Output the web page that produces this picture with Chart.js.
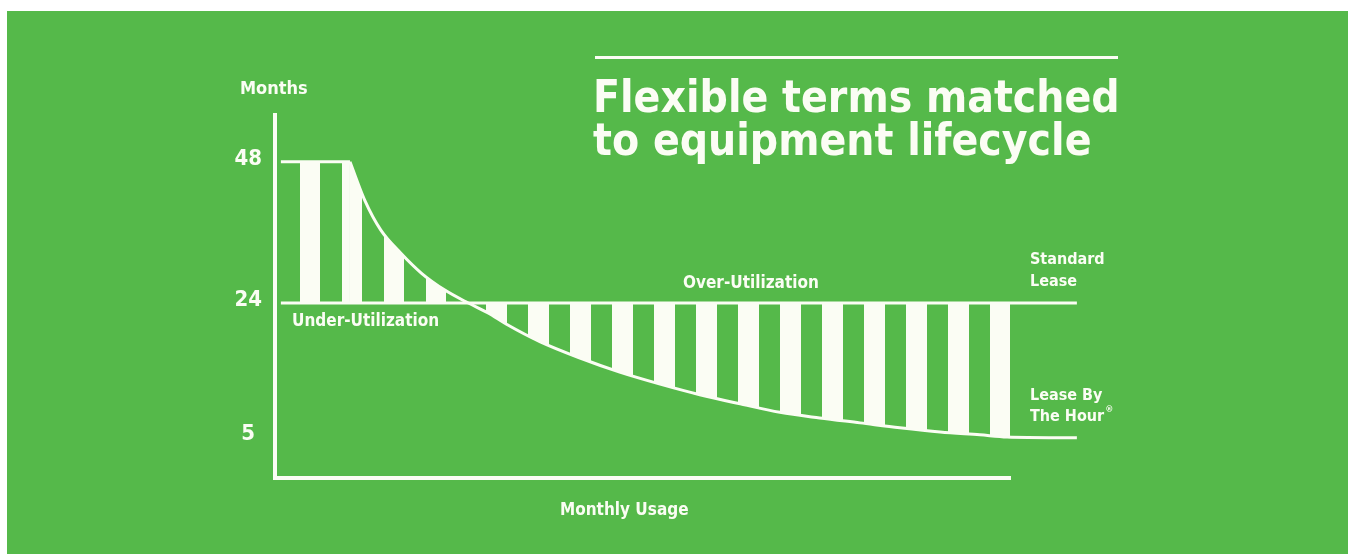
<!DOCTYPE html>
<html>
<head>
<meta charset="utf-8">
<script src="https://cdn.jsdelivr.net/npm/chart.js@4.4.1/dist/chart.umd.min.js"></script>
<style>
  html, body { margin: 0; padding: 0; background: #fff; overflow: hidden; }
  #panel { position: absolute; left: 7px; top: 11px; width: 1341px; height: 543px; background: #55b94a; }
  #chart { position: absolute; left: 0; top: 0; }
</style>
</head>
<body>
<div id="panel"></div>
<canvas id="chart" width="1348" height="554"></canvas>
<script>
// usage is in % of the drawn axis length, terms are in months
const monthTicks = [5, 24, 48];

const usageStandard = [0.8, 109.1];
const monthsStandard = [24, 24];

const usageFlat = [0.8, 10.2];
const monthsFlat = [48, 48];

const usageHourly = [10.2, 12.2, 14.4, 17.1, 19.9, 23.1, 26.3, 29.0, 31.5, 36.1, 41.5, 46.9, 52.4, 57.8, 63.3, 68.7, 74.1, 79.6, 85.0, 90.5, 95.9, 99.6, 109.1];
const monthsHourly = [48, 41.5, 36.4, 32.5, 29.1, 26.2, 24.0, 22.6, 21.0, 18.5, 16.2, 14.2, 12.5, 11.0, 9.7, 8.5, 7.7, 7.0, 6.3, 5.7, 5.3, 5.0, 4.9];

const WHITE = '#fbfdf4';
const FONT = "'DejaVu Sans Condensed', 'DejaVu Sans', sans-serif";

// the month axis is not evenly spaced in the picture, so map it piecewise
const knotValues = [0, 5, 24, 48, 56];
const knotFractions = [0, 0.113, 0.482, 0.871, 1];

class KnotScale extends Chart.LinearScale {
  static id = 'knots';
  getPixelForValue(value) {
    if (value === null || value === undefined) return NaN;
    let i = 1;
    while (i < knotValues.length - 1 && value > knotValues[i]) i++;
    const t = (value - knotValues[i - 1]) / (knotValues[i] - knotValues[i - 1]);
    return this.getPixelForDecimal(knotFractions[i - 1] + t * (knotFractions[i] - knotFractions[i - 1]));
  }
  getValueForPixel(pixel) {
    const d = this.getDecimalForPixel(pixel);
    let i = 1;
    while (i < knotFractions.length - 1 && d > knotFractions[i]) i++;
    const t = (d - knotFractions[i - 1]) / (knotFractions[i] - knotFractions[i - 1]);
    return knotValues[i - 1] + t * (knotValues[i] - knotValues[i - 1]);
  }
}
Chart.register(KnotScale);

const toPoints = (xs, ys) => xs.map((x, i) => ({ x: x, y: ys[i] }));

const canvas = document.getElementById('chart');
const ctx = canvas.getContext('2d');

// vertical hatch between the two lease curves
function stripes(offset, width) {
  const c = document.createElement('canvas');
  c.width = 42;
  c.height = 4;
  const g = c.getContext('2d');
  g.fillStyle = WHITE;
  g.fillRect(offset, 0, width, 4);
  g.fillRect(offset - 42, 0, width, 4);
  return ctx.createPattern(c, 'repeat');
}
const underHatch = stripes(6, 20);
const overHatch = stripes(24, 21);

const labelPlugin = {
  id: 'labels',
  afterDraw(chart) {
    const c = chart.ctx;
    c.save();
    c.fillStyle = WHITE;
    c.strokeStyle = WHITE;

    c.lineWidth = 3;
    c.beginPath();
    c.moveTo(595, 57.5);
    c.lineTo(1118, 57.5);
    c.stroke();

    c.textAlign = 'left';
    c.textBaseline = 'alphabetic';
    c.font = 'bold 44px ' + FONT;
    c.fillText('Flexible terms matched', 593, 112);
    c.fillText('to equipment lifecycle', 593, 155);

    c.textBaseline = 'middle';
    c.font = 'bold 18px ' + FONT;
    c.fillText('Months', 240, 89);
    c.font = 'bold 17px ' + FONT;
    c.fillText('Monthly Usage', 560, 511);
    c.fillText('Under-Utilization', 292, 322);
    c.fillText('Over-Utilization', 683, 284);

    c.font = 'bold 16px ' + FONT;
    c.fillText('Standard', 1030, 260);
    c.fillText('Lease', 1030, 282);
    c.fillText('Lease By', 1030, 396);
    c.fillText('The Hour', 1030, 417);
    const w = c.measureText('The Hour').width;
    c.font = 'bold 9px ' + FONT;
    c.fillText('\u00ae', 1030 + w + 1, 410);
    c.restore();
  }
};

new Chart(ctx, {
  type: 'line',
  data: {
    datasets: [
      {
        label: 'Standard Lease',
        data: toPoints(usageStandard, monthsStandard),
        borderColor: WHITE,
        borderWidth: 3,
        pointRadius: 0,
        fill: false,
        clip: false
      },
      {
        label: 'Lease By The Hour (flat)',
        data: toPoints(usageFlat, monthsFlat),
        borderColor: WHITE,
        borderWidth: 3,
        pointRadius: 0,
        fill: { target: { value: 24 }, above: underHatch, below: overHatch },
        clip: false
      },
      {
        label: 'Lease By The Hour',
        data: toPoints(usageHourly, monthsHourly),
        borderColor: WHITE,
        borderWidth: 3,
        pointRadius: 0,
        cubicInterpolationMode: 'monotone',
        fill: { target: { value: 24 }, above: underHatch, below: overHatch },
        clip: false
      }
    ]
  },
  options: {
    responsive: false,
    animation: false,
    layout: { padding: { left: 0, top: 115, right: 338, bottom: 0 } },
    plugins: {
      legend: { display: false },
      tooltip: { enabled: false }
    },
    scales: {
      x: {
        type: 'linear',
        min: 0,
        max: 100,
        grid: { display: false, drawTicks: false },
        border: { color: WHITE, width: 4 },
        ticks: { display: false },
        afterFit: (s) => { s.height = 76; }
      },
      y: {
        type: 'knots',
        min: 0,
        max: 56,
        grid: { display: false, drawTicks: false },
        border: { color: WHITE, width: 4 },
        afterBuildTicks: (s) => { s.ticks = monthTicks.map(v => ({ value: v })); },
        ticks: {
          color: WHITE,
          padding: 13,
          labelOffset: -3,
          crossAlign: 'center',
          font: { family: FONT, weight: 'bold', size: 22 },
          callback: (v) => String(v)
        },
        afterFit: (s) => { s.width = 275; }
      }
    }
  },
  plugins: [labelPlugin]
});
</script>
</body>
</html>
